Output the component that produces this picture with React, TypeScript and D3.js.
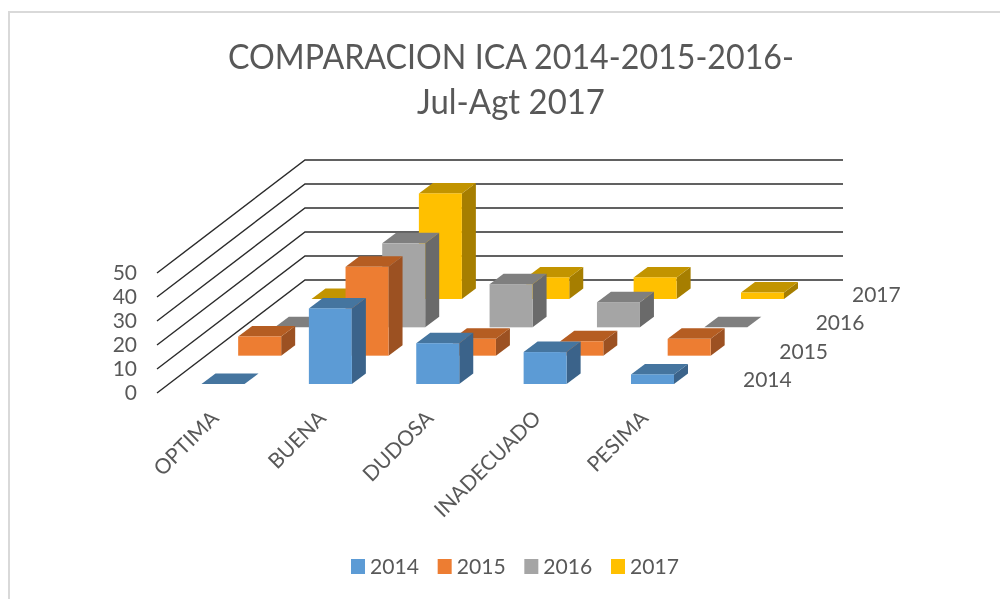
import React from "react";
import * as d3 from "d3";

const categories = ["OPTIMA", "BUENA", "DUDOSA", "INADECUADO", "PESIMA"];
const seriesNames = ["2014", "2015", "2016", "2017"];
const values2014 = [0, 31.5, 17, 13.3, 4];
const values2015 = [8, 37, 7, 6, 7];
const values2016 = [0, 35, 18, 10.5, 0];
const values2017 = [0, 44, 9, 9, 2.7];
const seriesValues = [values2014, values2015, values2016, values2017];
const yTicks = [0, 10, 20, 30, 40, 50];

const front = ["#5B9BD5", "#ED7D31", "#A5A5A5", "#FFC000"];
const top = ["#44749F", "#B55D22", "#7F7F7F", "#C29400"];
const side = ["#3A648A", "#9C5120", "#6B6B6B", "#A67E00"];
const textColor = "#595959";
const font = "Lato, 'Open Sans', sans-serif";

const xCat = d3.scaleLinear().domain([0, 4]).range([201.5, 631]);
const seriesDx = d3.scaleLinear().domain([0, 3]).range([0, 110]);
const seriesBase = d3.scaleLinear().domain([0, 3]).range([384, 299]);
const h = d3.scaleLinear().domain([0, 50]).range([0, 120]);
const legendX = d3.scaleLinear().domain([0, 3]).range([351, 611]);
const barW = 43;
const depthX = 14;
const depthY = 10.5;
const line = d3.line();

export default function App() {
  return (
    <svg
      width={1000}
      height={599}
      style={{ position: "absolute", left: 0, top: 0, background: "#fff", display: "block" }}
    >
      <defs>
        <filter id="soft" x="-5%" y="-5%" width="110%" height="110%">
          <feGaussianBlur stdDeviation="0.45" />
        </filter>
      </defs>
      <g filter="url(#soft)">
        <path d="M9,599V12H1000" fill="none" stroke="#D9D9D9" strokeWidth={2} />
        <g fontFamily={font} fill={textColor} fontSize={34} textAnchor="middle">
          <text x={511} y={69} textLength={566} lengthAdjust="spacingAndGlyphs">COMPARACION ICA 2014-2015-2016-</text>
          <text x={511} y={114} textLength={188} lengthAdjust="spacingAndGlyphs">Jul-Agt 2017</text>
        </g>
        {yTicks.map((t) => {
          const d = h(t);
          return (
            <g key={t}>
              <path
                d={line([[157, 393 - d], [305, 280 - d], [843, 280 - d]]) ?? ""}
                fill="none"
                stroke="#2b2b2b"
                strokeWidth={1.4}
              />
              <text x={137} y={393 - d + 7} fontFamily={font} fontSize={21} fill={textColor} textAnchor="end">
                {t}
              </text>
            </g>
          );
        })}
        {[3, 2, 1, 0].map((s) => (
          <g key={s}>
            {[4, 3, 2, 1, 0].map((c) => {
              const x = xCat(c) + seriesDx(s);
              const base = seriesBase(s);
              const y = base - h(seriesValues[s][c]);
              return (
                <g key={c}>
                  <path
                    d={line([[x + barW, y], [x + barW + depthX, y - depthY], [x + barW + depthX, base - depthY], [x + barW, base]]) + "Z"}
                    fill={side[s]}
                  />
                  <path
                    d={line([[x, y], [x + depthX, y - depthY], [x + barW + depthX, y - depthY], [x + barW, y]]) + "Z"}
                    fill={top[s]}
                  />
                  <rect x={x} y={y} width={barW} height={base - y} fill={front[s]} />
                </g>
              );
            })}
          </g>
        ))}
        {seriesNames.map((n, s) => (
          <text
            key={n}
            x={743 + (s * 109) / 3}
            y={387 - (384 - seriesBase(s))}
            fontFamily={font}
            fontSize={21}
            fill={textColor}
          >
            {n}
          </text>
        ))}
        {categories.map((c, i) => (
          <text
            key={c}
            transform={`translate(${xCat(i) + 18.5},${419.5}) rotate(-45)`}
            fontFamily={font}
            fontSize={21}
            fill={textColor}
            textAnchor="end"
          >
            {c}
          </text>
        ))}
        {seriesNames.map((n, s) => {
          const lx = legendX(s);
          return (
            <g key={n}>
              <rect x={lx} y={559} width={14} height={15} fill={front[s]} />
              <text x={lx + 19} y={574} fontFamily={font} fontSize={21} fill={textColor} textLength={49} lengthAdjust="spacingAndGlyphs">
                {n}
              </text>
            </g>
          );
        })}
      </g>
    </svg>
  );
}
